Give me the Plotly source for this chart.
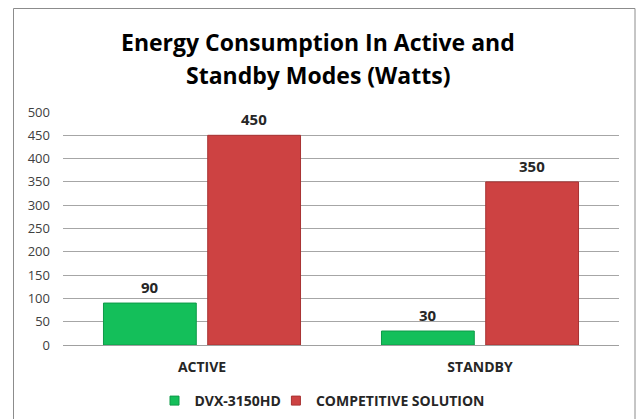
import plotly.graph_objects as go

categories = ["ACTIVE", "STANDBY"]
series_names = ["DVX-3150HD", "COMPETITIVE SOLUTION"]
dvx_values = [90, 30]
competitive_values = [450, 350]
y_ticks = [0, 50, 100, 150, 200, 250, 300, 350, 400, 450, 500]
title_lines = ["Energy Consumption In Active and", "Standby Modes (Watts)"]

GREEN = "#14bf5a"
RED = "#cd4242"
FONT = "Open Sans"

W, H = 636, 419
L, R, T, B = 63, 17, 112, 74
BARGAP, BARGROUPGAP = 0.25, 0.11

pw = W - L - R
ph = H - T - B
def px_x(p):
    return (p - L) / pw
def px_y(p):
    return (H - B - p) / ph

fig = go.Figure()
for name, vals, col, edge in [(series_names[0], dvx_values, GREEN, "#0e9a48"),
                              (series_names[1], competitive_values, RED, "#a83232")]:
    fig.add_trace(go.Bar(
        x=categories, y=vals, name=name, showlegend=False,
        marker=dict(color=col, line=dict(color=edge, width=1)),
    ))
    fig.add_trace(go.Scatter(
        x=[None], y=[None], mode="markers", name=name,
        marker=dict(symbol="square", size=9, color=col, line=dict(color=edge, width=1)),
    ))

cat_px = pw / len(categories)
slot_px = (1 - BARGAP) * cat_px / 2
for i, vals in enumerate([dvx_values, competitive_values]):
    offset = (i - 0.5) * slot_px
    for c, v in zip(categories, vals):
        fig.add_annotation(
            x=c, y=v, xref="x", yref="y", text=str(v), showarrow=False,
            xshift=offset, yshift=16, yanchor="middle",
            font=dict(family=FONT, size=15, color="#262626", weight="bold"),
        )

for line, py in zip(title_lines, [42, 75]):
    fig.add_annotation(
        x=px_x(W / 2), xref="paper", y=px_y(py), yref="paper",
        text=line, showarrow=False, xanchor="center", yanchor="middle",
        font=dict(family=FONT, size=23, color="#000000", weight="bold"),
    )

fig.update_layout(
    width=W, height=H,
    margin=dict(l=L, r=R, t=T, b=B, autoexpand=False),
    paper_bgcolor="white", plot_bgcolor="white",
    barmode="group", bargap=BARGAP, bargroupgap=BARGROUPGAP,
    xaxis=dict(
        showgrid=False, showline=True, linecolor="#a0a0a0", linewidth=1,
        ticks="", tickfont=dict(family=FONT, size=14, color="#262626", weight="bold"),
        range=[-0.5, 1.5], automargin=False, ticklabelstandoff=9,
    ),
    yaxis=dict(
        range=[0, 500], tickvals=y_ticks, showgrid=True, gridcolor="#a6a6a6",
        gridwidth=1, zeroline=False, showline=False, ticks="",
        tickfont=dict(family=FONT, size=13, color="#404040"),
        ticklabelstandoff=12, automargin=False,
    ),
    legend=dict(
        orientation="h", x=px_x(327), xanchor="center", y=px_y(401), yanchor="middle",
        font=dict(family=FONT, size=14, color="#262626", weight="bold"),
        itemwidth=30, traceorder="normal", indentation=-10,
    ),
    showlegend=True,
)

fig.add_shape(
    type="rect", xref="paper", yref="paper",
    x0=px_x(13.5), x1=px_x(635), y0=px_y(440), y1=px_y(8.5),
    line=dict(color="#8c8c8c", width=1), fillcolor="rgba(0,0,0,0)", layer="below",
)

fig.write_html("out.html", config={"displayModeBar": False},
               post_script="document.body.style.margin='0px';")
